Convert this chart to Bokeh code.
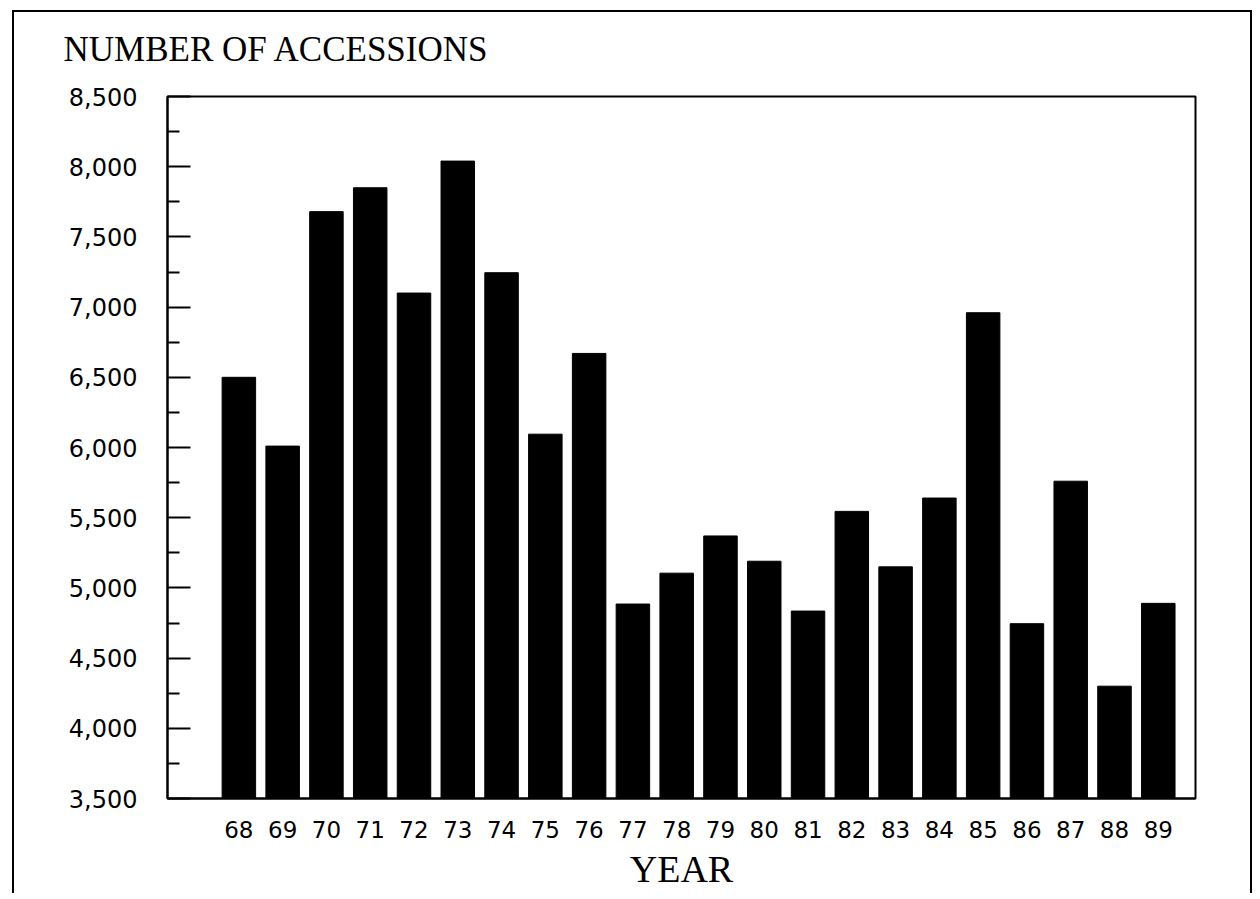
from bokeh.plotting import figure
from bokeh.models import Range1d, FixedTicker, NumeralTickFormatter, Title
from bokeh.embed import file_html
from bokeh.resources import INLINE

# ---- data ----
years = [68, 69, 70, 71, 72, 73, 74, 75, 76, 77, 78, 79, 80, 81, 82, 83, 84, 85, 86, 87, 88, 89]
accessions = [6500, 6010, 7680, 7850, 7100, 8040, 7245, 6095, 6670, 4885, 5105,
              5370, 5190, 4835, 5545, 5150, 5640, 6960, 4745, 5760, 4300, 4890]
y_major_ticks = [3500, 4000, 4500, 5000, 5500, 6000, 6500, 7000, 7500, 8000, 8500]
y_minor_ticks = [3750, 4250, 4750, 5250, 5750, 6250, 6750, 7250, 7750, 8250]
title_text = "NUMBER OF ACCESSIONS"
x_title = "YEAR"

y0, y1 = 3500, 8500

p = figure(width=1240, height=883, output_backend="svg", toolbar_location=None,
           x_range=Range1d(66.37, 89.85), y_range=Range1d(y0, y1),
           min_border_left=153, min_border_right=59, min_border_top=84, min_border_bottom=97)
p.title = None
p.margin = (10, 0, 0, 12)
p.styles = {"border-left": "2px solid black", "border-top": "2px solid black",
            "border-right": "2px solid black"}

p.vbar(x=years, top=accessions, bottom=y0, width=0.765, fill_color="black", line_color="black")

p.xgrid.visible = False
p.ygrid.visible = False
p.outline_line_color = "black"
p.outline_line_width = 2
p.outline_line_alpha = 1

# spacer (closest to the frame) then the real title above it
spacer = Title(text=" ", text_font_size="1px", standoff=25)
main_title = Title(text=title_text, text_font="Liberation Serif", text_font_size="35px",
                   text_font_style="normal", text_color="black", align="left",
                   offset=-104, standoff=0)
p.add_layout(spacer, "above")
p.add_layout(main_title, "above")

# x axis
xa = p.xaxis[0]
xa.ticker = FixedTicker(ticks=years)
xa.major_tick_in = 0
xa.major_tick_out = 0
xa.minor_tick_in = 0
xa.minor_tick_out = 0
xa.axis_line_color = "black"
xa.axis_line_width = 2
xa.major_label_text_font = "DejaVu Sans"
xa.major_label_text_font_size = "23px"
xa.major_label_text_color = "black"
xa.major_label_standoff = 22
xa.axis_label = x_title
xa.axis_label_text_font = "Liberation Serif"
xa.axis_label_text_font_size = "38px"
xa.axis_label_text_font_style = "normal"
xa.axis_label_text_color = "black"
xa.axis_label_standoff = 7

# y axis
ya = p.yaxis[0]
ya.ticker = FixedTicker(ticks=y_major_ticks, minor_ticks=y_minor_ticks)
ya.formatter = NumeralTickFormatter(format="0,0")
ya.major_tick_in = 23
ya.major_tick_out = 0
ya.minor_tick_in = 12
ya.minor_tick_out = 0
ya.major_tick_line_color = "black"
ya.major_tick_line_width = 2
ya.minor_tick_line_color = "black"
ya.minor_tick_line_width = 2
ya.axis_line_color = "black"
ya.axis_line_width = 2
ya.major_label_text_font = "DejaVu Sans"
ya.major_label_text_font_size = "24px"
ya.major_label_text_color = "black"
ya.major_label_standoff = 30

open("out.html", "w").write(file_html(p, INLINE))
